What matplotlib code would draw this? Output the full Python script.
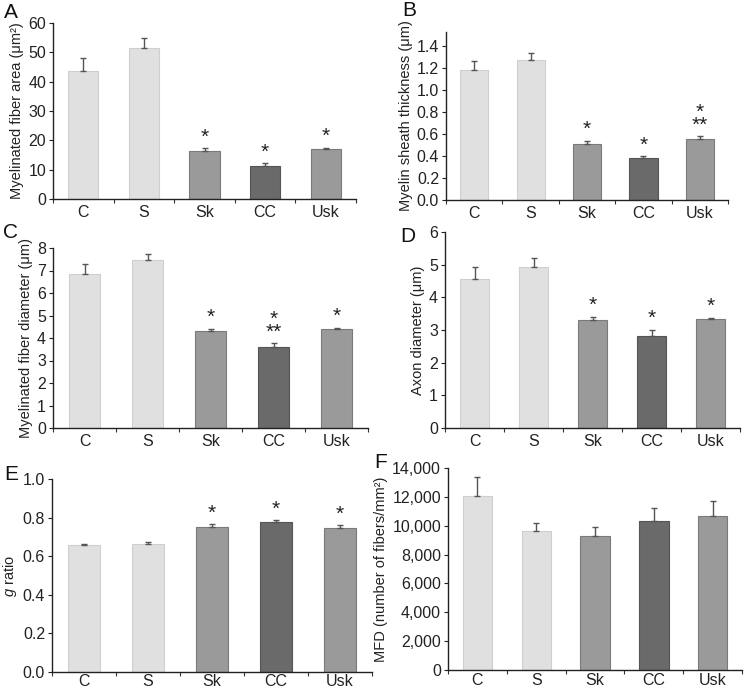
import matplotlib
matplotlib.use("Agg")
import matplotlib.pyplot as plt
from matplotlib.ticker import FuncFormatter

plt.rcParams['font.family'] = ['Liberation Sans', 'DejaVu Sans']
plt.rcParams['mathtext.fontset'] = 'custom'
plt.rcParams['mathtext.rm'] = 'Liberation Sans'
plt.rcParams['mathtext.it'] = 'Liberation Sans:italic'

categories = ["C", "S", "Sk", "CC", "Usk"]

area_mean = [43.5, 51.6, 16.4, 11.2, 17.0]
area_err = [4.7, 3.4, 0.9, 1.0, 0.5]
area_sig = ["", "", "*", "*", "*"]

sheath_mean = [1.18, 1.27, 0.51, 0.38, 0.55]
sheath_err = [0.08, 0.065, 0.03, 0.02, 0.03]
sheath_sig = ["", "", "*", "*", "*\n**"]

fdiam_mean = [6.85, 7.45, 4.33, 3.60, 4.40]
fdiam_err = [0.43, 0.27, 0.09, 0.16, 0.06]
fdiam_sig = ["", "", "*", "*\n**", "*"]

axon_mean = [4.55, 4.93, 3.30, 2.83, 3.33]
axon_err = [0.38, 0.27, 0.10, 0.18, 0.05]
axon_sig = ["", "", "*", "*", "*"]

g_mean = [0.660, 0.665, 0.752, 0.778, 0.745]
g_err = [0.005, 0.008, 0.014, 0.010, 0.017]
g_sig = ["", "", "*", "*", "*"]

mfd_mean = [12050, 9650, 9300, 10300, 10650]
mfd_err = [1300, 550, 600, 900, 1050]
mfd_sig = ["", "", "", "", ""]

face = ["#e0e0e0", "#e0e0e0", "#9a9a9a", "#6a6a6a", "#9a9a9a"]
edge = ["#cfcfcf", "#cfcfcf", "#7a7a7a", "#555555", "#7a7a7a"]

W, H = 745, 689
fig = plt.figure(figsize=(W / 100, H / 100), dpi=100)

def rect(l, r, b, t):
    return [l / W, 1 - b / H, (r - l) / W, (b - t) / H]

panels = [
    dict(box=rect(53, 356, 199, 23), m=area_mean, e=area_err, s=area_sig,
         ylim=(0, 60), ticks=[0, 10, 20, 30, 40, 50, 60], fmt="{:.0f}",
         ylabel="Myelinated fiber area (μm²)", letter="A", lxy=(11, 12), off=0.6, pad=4),
    dict(box=rect(446, 728, 200, 32), m=sheath_mean, e=sheath_err, s=sheath_sig,
         ylim=(0, 1.527), ticks=[0, 0.2, 0.4, 0.6, 0.8, 1.0, 1.2, 1.4], fmt="{:.1f}",
         ylabel="Myelin sheath thickness (μm)", letter="B", lxy=(409, 11), off=0.015, pad=4),
    dict(box=rect(53, 368, 428, 248), m=fdiam_mean, e=fdiam_err, s=fdiam_sig,
         ylim=(0, 8), ticks=list(range(0, 9)), fmt="{:.0f}",
         ylabel="Myelinated fiber diameter (μm)", letter="C", lxy=(11, 233), off=0.08, pad=4),
    dict(box=rect(445, 740, 428, 232), m=axon_mean, e=axon_err, s=axon_sig,
         ylim=(0, 6), ticks=list(range(0, 7)), fmt="{:.0f}",
         ylabel="Axon diameter (μm)", letter="D", lxy=(408, 236), off=0.06, pad=4),
    dict(box=rect(52, 372, 672, 479), m=g_mean, e=g_err, s=g_sig,
         ylim=(0, 1.0), ticks=[0, 0.2, 0.4, 0.6, 0.8, 1.0], fmt="{:.1f}",
         ylabel="$\\mathit{g}$ ratio", letter="E", lxy=(11, 474), off=0.008, pad=1.5),
    dict(box=rect(448, 742, 670, 468), m=mfd_mean, e=mfd_err, s=mfd_sig,
         ylim=(0, 14000), ticks=list(range(0, 14001, 2000)), fmt="{:,.0f}",
         ylabel="MFD (number of fibers/mm²)", letter="F", lxy=(381, 463), off=200, pad=2),
]

x = list(range(len(categories)))
for p in panels:
    ax = fig.add_axes(p["box"])
    ax.bar(x, p["m"], width=0.5, color=face, edgecolor=edge, linewidth=0.8, zorder=2)
    ax.errorbar(x, p["m"], yerr=[[0] * 5, p["e"]], fmt="none", ecolor="#555555",
                elinewidth=1.0, capsize=2.5, capthick=1.0, zorder=3)
    for xi, mi, ei, si in zip(x, p["m"], p["e"], p["s"]):
        if si:
            ax.text(xi, mi + ei + p["off"], si, ha="center", va="bottom",
                    fontsize=15, linespacing=0.6, color="#222222")
    ax.set_xlim(-0.5, 4.5)
    ax.set_ylim(*p["ylim"])
    ax.set_yticks(p["ticks"])
    f = p["fmt"]
    ax.yaxis.set_major_formatter(FuncFormatter(lambda v, pos, f=f: f.format(v)))
    ax.set_xticks(x)
    ax.set_xticklabels(categories)
    ax.set_xticks([-0.5, 0.5, 1.5, 2.5, 3.5, 4.5], minor=True)
    ax.tick_params(axis="x", which="major", length=0, labelsize=11.5, pad=p["pad"], colors="#222222")
    ax.tick_params(axis="x", which="minor", length=3, width=0.8, color="#333333")
    ax.tick_params(axis="y", length=3, width=0.8, labelsize=11.5, pad=2, colors="#222222")
    for sp in ["top", "right"]:
        ax.spines[sp].set_visible(False)
    for sp in ["left", "bottom"]:
        ax.spines[sp].set_linewidth(1.0)
        ax.spines[sp].set_color("#222222")
    ax.set_ylabel(p["ylabel"], fontsize=10.5, color="#222222", labelpad=3)
    fig.text(p["lxy"][0] / W, 1 - p["lxy"][1] / H, p["letter"], fontsize=15,
             ha="center", va="center", color="#111111")

fig.savefig("out.png", dpi=100)
